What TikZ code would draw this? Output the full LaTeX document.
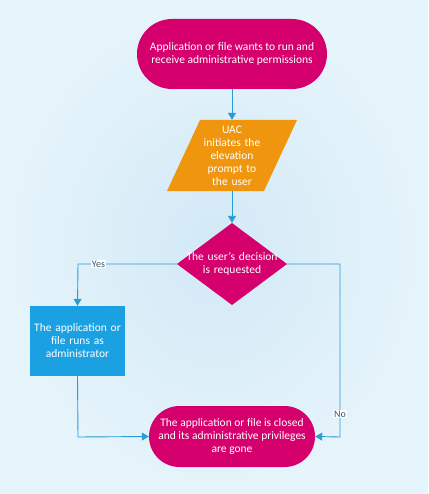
\documentclass[tikz,border=0pt]{standalone}
\usepackage{fontspec}
\setmainfont{Carlito}
\usetikzlibrary{arrows.meta,shapes.geometric}
\definecolor{bgin}{HTML}{D2E9F6}
\definecolor{bgout}{HTML}{E6F4FB}
\definecolor{mag}{HTML}{D5006D}
\definecolor{org}{HTML}{F0960E}
\definecolor{blu}{HTML}{1BA1E2}
\definecolor{ln}{HTML}{2A9BD3}
\definecolor{lbl}{HTML}{34586E}
\tikzset{
  x=1pt,y=-1pt,
  term/.style={fill=mag,text=white,rounded corners=#1,align=center,font=\fontsize{11.5}{13}\selectfont,inner sep=0pt},
  conn/.style={draw=ln,line width=0.9pt,-{Triangle[width=8pt,length=7pt]}},
  lab/.style={fill=white,text=lbl,font=\fontsize{10}{11}\selectfont,inner sep=1pt},
  txt/.style={text=white,align=center,font=\fontsize{11.5}{13}\selectfont,inner sep=0pt}
}
\begin{document}
\begin{tikzpicture}
\useasboundingbox (0,0) rectangle (428,494);
\shade[inner color=bgin,outer color=bgout] (0,0) rectangle (428,494);
% start terminal
\node[term=35pt,minimum width=190pt,minimum height=70pt] (start) at (232,54) {Application or file wants to run and\\receive administrative permissions};
% parallelogram
\fill[org] (200,120) -- (297,120) -- (264,191) -- (167,191) -- cycle;
\node[txt,minimum width=97pt,minimum height=71pt,text width=80pt] (uac) at (232,155.5) {UAC\\initiates the\\elevation\\prompt to\\the user};
% diamond
\fill[mag] (232,223) -- (287,264) -- (232,305) -- (177,264) -- cycle;
\node[txt,minimum width=110pt,minimum height=82pt,text width=110pt] (dec) at (232,264) {The user's decision\\is requested};
% blue box
\node[fill=blu,txt,minimum width=95pt,minimum height=70pt,text width=95pt] (run) at (77.5,341) {The application or\\file runs as\\administrator};
% end terminal
\node[term=30.5pt,minimum width=166pt,minimum height=61pt] (end) at (232,436.5) {The application or file is closed\\and its administrative privileges\\are gone};
% connectors
\draw[conn] (start.south) -- (uac.north);
\draw[conn] (uac.south) -- (dec.north);
\coordinate (yc) at (78,264);
\coordinate (nc) at (340,264);
\coordinate (rb) at (78,437);
\coordinate (nb) at (340,437);
\draw[conn] (dec.west) -- (yc) -- (run.north);
\draw[conn] (run.south) -- (rb) -- (end.west);
\draw[conn] (dec.east) -- (nc) -- (nb) -- (end.east);
\node[lab] (yes) at (98.5,264) {Yes};
\node[lab] (no) at (340,414) {No};
\end{tikzpicture}
\end{document}
